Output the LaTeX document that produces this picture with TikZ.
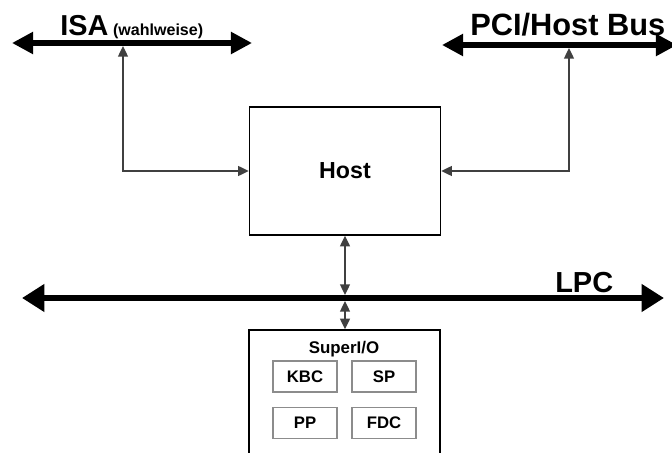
\documentclass[tikz,border=0pt]{standalone}
\usepackage{fontspec}
\setmainfont{Liberation Sans}
\usetikzlibrary{arrows.meta,positioning}

\newcommand{\fsz}[1]{\fontsize{#1}{#1}\selectfont\bfseries}

\begin{document}
\begin{tikzpicture}[x=0.025cm, y=-0.025cm,
    bus/.style={line width=3.6pt, {Triangle[length=15pt,width=15pt]}-{Triangle[length=15pt,width=15pt]}},
    link/.style={draw=black!75, line width=1pt, {Triangle[length=7.5pt,width=7pt]}-{Triangle[length=7.5pt,width=7pt]}},
    box/.style={draw, line width=1pt, inner sep=0pt},
    unit/.style={draw=black!45, line width=0.8pt, minimum width=1.6cm, minimum height=0.775cm, inner sep=0pt, font=\fsz{11.9}}]
    \useasboundingbox (0,0) rectangle (672,453);
    \clip (0,0) rectangle (672,453);

    % buses
    \coordinate (isaL) at (12,43);  \coordinate (isaR) at (252,43);
    \coordinate (pciL) at (442,45); \coordinate (pciR) at (677,45);
    \coordinate (lpcL) at (22,298); \coordinate (lpcR) at (664,298);
    \draw[bus] (isaL) -- (isaR);
    \draw[bus] (pciL) -- (pciR);
    \draw[bus, line width=4.2pt, {Triangle[length=16pt,width=19pt]}-{Triangle[length=16pt,width=19pt]}] (lpcL) -- (lpcR);

    \node[anchor=base west, inner sep=0pt, font=\fsz{20.5}] (isa) at (60,36) {ISA\,{\fsz{11.4}(wahlweise)}};
    \node[anchor=base west, inner sep=0pt, font=\fsz{21.9}] (pci) at (470,36) {PCI/Host Bus};
    \node[anchor=base west, inner sep=0pt, font=\fsz{20.6}] (lpc) at (555,292) {LPC};

    % host
    \node[box, minimum width=4.775cm, minimum height=3.2cm, font=\fsz{16.5}] (host) at (345,171) {Host};
    \coordinate (isatap) at (123,46);
    \coordinate (pcitap) at (569,48);
    \draw[link] (isatap) |- (host.west);
    \draw[link] (pcitap) |- (host.east);

    % superI/O
    \node[box, minimum width=4.775cm, minimum height=3.75cm] (sio) at (344.5,405) {};
    \node[anchor=base, inner sep=0pt, font=\fsz{12}] (siotitle) at (344,353) {SuperI/O};
    \node[unit] (kbc) at (305,376.5) {KBC};
    \node[unit] (sp) at (384,376.5) {SP};
    \node[unit] (pp) at (305,423) {PP};
    \node[unit] (fdc) at (384,423) {FDC};

    \coordinate (lpctop) at (345,295);
    \coordinate (lpcbot) at (345,301);
    \draw[link] (host.south) -- (lpctop);
    \draw[link] (lpcbot) -- (sio.north -| lpcbot);
\end{tikzpicture}
\end{document}
